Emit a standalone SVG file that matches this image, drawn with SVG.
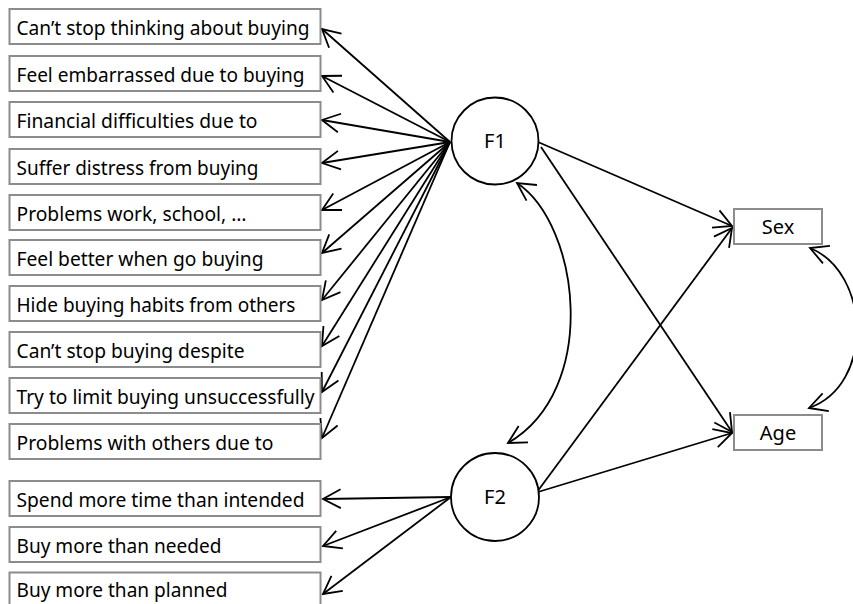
<svg xmlns="http://www.w3.org/2000/svg" width="853" height="604" viewBox="0 0 853 604">
<style>
  .box { fill: #ffffff; stroke: #8c8c8c; stroke-width: 2; }
  .lat { fill: #ffffff; stroke: #000000; stroke-width: 1.8; }
  .lbl { font-family: "Noto Sans", "Open Sans", sans-serif; font-size: 20px; fill: #000000; }
  .mid { text-anchor: middle; }
  .edge { fill: none; stroke: #000000; stroke-width: 1.8; marker-end: url(#arr); }
  .cov { fill: none; stroke: #000000; stroke-width: 1.8; marker-start: url(#arr); marker-end: url(#arr); }
</style>
<defs>
  <marker id="arr" markerUnits="userSpaceOnUse" viewBox="-21 -12 23 24" refX="0" refY="0" markerWidth="23" markerHeight="24" orient="auto-start-reverse">
    <path d="M -17.7 -9.4 L 0 0 L -17.7 9.4" fill="none" stroke="#000000" stroke-width="1.8"/>
  </marker>
</defs>
<rect width="853" height="604" fill="#ffffff"/>

<g id="connectors">
  <line class="edge" x1="450" y1="142" x2="322" y2="29"/>
  <line class="edge" x1="450" y1="142" x2="322" y2="76"/>
  <line class="edge" x1="450" y1="142" x2="322" y2="120"/>
  <line class="edge" x1="450" y1="142" x2="322" y2="163"/>
  <line class="edge" x1="450" y1="142" x2="322" y2="210"/>
  <line class="edge" x1="450" y1="142" x2="322" y2="253"/>
  <line class="edge" x1="450" y1="142" x2="322" y2="300"/>
  <line class="edge" x1="450" y1="142" x2="322" y2="346"/>
  <line class="edge" x1="450" y1="142" x2="322" y2="392"/>
  <line class="edge" x1="450" y1="142" x2="322" y2="438"/>
  <line class="edge" x1="451" y1="497" x2="323" y2="499"/>
  <line class="edge" x1="451" y1="497" x2="323" y2="546"/>
  <line class="edge" x1="451" y1="497" x2="323" y2="594"/>
  <line class="edge" x1="538" y1="142" x2="732" y2="226"/>
  <line class="edge" x1="541" y1="147" x2="732" y2="432"/>
  <line class="edge" x1="537" y1="492" x2="732" y2="228"/>
  <line class="edge" x1="538" y1="492" x2="732" y2="433"/>
  <path class="cov" d="M 517 183 C 580 225 600 390 508 443"/>
  <path class="cov" d="M 810 248 C 870 272 875 385 809 408"/>
</g>

<g id="i1"><rect class="box" x="9.5" y="9" width="311" height="35"/><text class="lbl" x="16.5" y="35" textLength="293" lengthAdjust="spacingAndGlyphs">Can’t stop thinking about buying</text></g>
<g id="i2"><rect class="box" x="9.5" y="56" width="311" height="35"/><text class="lbl" x="16.5" y="82" textLength="288" lengthAdjust="spacingAndGlyphs">Feel embarrassed due to buying</text></g>
<g id="i3"><rect class="box" x="9.5" y="102" width="311" height="35"/><text class="lbl" x="16.5" y="128" textLength="241" lengthAdjust="spacingAndGlyphs">Financial difficulties due to</text></g>
<g id="i4"><rect class="box" x="9.5" y="149" width="311" height="35"/><text class="lbl" x="16.5" y="175" textLength="242" lengthAdjust="spacingAndGlyphs">Suffer distress from buying</text></g>
<g id="i5"><rect class="box" x="9.5" y="195" width="311" height="35"/><text class="lbl" x="16.5" y="221" textLength="230" lengthAdjust="spacingAndGlyphs">Problems work, school, …</text></g>
<g id="i6"><rect class="box" x="9.5" y="240" width="311" height="35"/><text class="lbl" x="16.5" y="266" textLength="247" lengthAdjust="spacingAndGlyphs">Feel better when go buying</text></g>
<g id="i7"><rect class="box" x="9.5" y="286" width="311" height="35"/><text class="lbl" x="16.5" y="312" textLength="279" lengthAdjust="spacingAndGlyphs">Hide buying habits from others</text></g>
<g id="i8"><rect class="box" x="9.5" y="332" width="311" height="35"/><text class="lbl" x="16.5" y="358" textLength="228" lengthAdjust="spacingAndGlyphs">Can’t stop buying despite</text></g>
<g id="i9"><rect class="box" x="9.5" y="378" width="311" height="35"/><text class="lbl" x="16.5" y="404" textLength="298" lengthAdjust="spacingAndGlyphs">Try to limit buying unsuccessfully</text></g>
<g id="i10"><rect class="box" x="9.5" y="424" width="311" height="35"/><text class="lbl" x="16.5" y="450" textLength="257" lengthAdjust="spacingAndGlyphs">Problems with others due to</text></g>
<g id="i11"><rect class="box" x="9.5" y="481" width="311" height="35"/><text class="lbl" x="16.5" y="507" textLength="288" lengthAdjust="spacingAndGlyphs">Spend more time than intended</text></g>
<g id="i12"><rect class="box" x="9.5" y="527" width="311" height="35"/><text class="lbl" x="16.5" y="553" textLength="205" lengthAdjust="spacingAndGlyphs">Buy more than needed</text></g>
<g id="i13"><rect class="box" x="9.5" y="572.5" width="311" height="40"/><text class="lbl" x="16.5" y="597" textLength="211" lengthAdjust="spacingAndGlyphs">Buy more than planned</text></g>

<g id="F1"><circle class="lat" cx="495" cy="141" r="43.5"/><text class="lbl mid" x="495" y="148">F1</text></g>
<g id="F2"><circle class="lat" cx="495" cy="497" r="44"/><text class="lbl mid" x="495" y="504">F2</text></g>
<g id="Sex"><rect class="box" x="734" y="209" width="88" height="35"/><text class="lbl mid" x="778" y="234">Sex</text></g>
<g id="Age"><rect class="box" x="734" y="415" width="88" height="35"/><text class="lbl mid" x="778" y="440">Age</text></g>
</svg>
